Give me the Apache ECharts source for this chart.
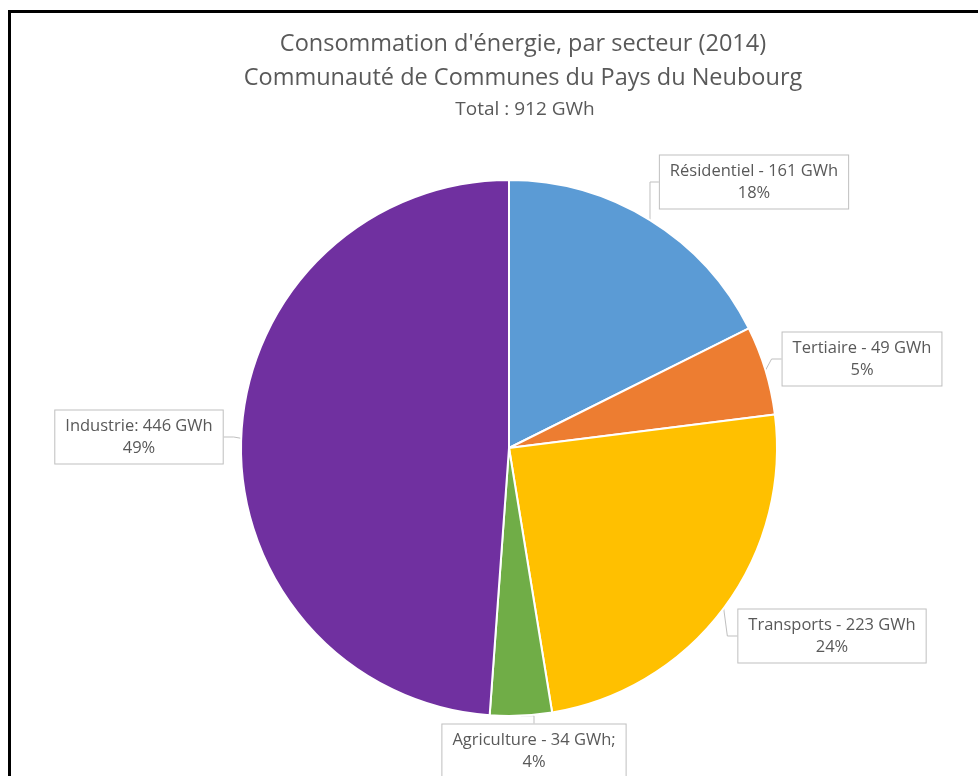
<!DOCTYPE html>
<html>
<head>
<meta charset="utf-8">
<script src="https://cdn.jsdelivr.net/npm/echarts@6/dist/echarts.min.js"></script>
<style>
    html, body { margin: 0; padding: 0; background: #fff; }
    #chart { width: 978px; height: 776px; }
    .frame {
        position: absolute; left: 8px; top: 10px; right: 0; bottom: 0;
        border-top: 3px solid #000; border-left: 3px solid #000;
        pointer-events: none;
    }
</style>
</head>
<body>
<div id="chart"></div>
<div class="frame"></div>
<script>
// secteurs, dans l'ordre horaire depuis midi
var sectors = ['Résidentiel', 'Tertiaire', 'Transports', 'Agriculture', 'Industrie'];
var gwh = [161, 49, 223, 34, 446];
var separators = [' - ', ' - ', ' - ', ' - ', ': '];
var suffixes = ['', '', '', ';', ''];
var colors = ['#5B9BD5', '#ED7D31', '#FFC000', '#70AD47', '#7030A0'];

var titleLines = [
    "Consommation d'énergie, par secteur (2014)",
    'Communauté de Communes du Pays du Neubourg'
];
var totalText = 'Total : 912 GWh';

// centres des étiquettes (callouts)
var labelCenters = [[754, 182], [862, 359], [832, 636], [534, 751], [139, 437]];

var chart = echarts.init(document.getElementById('chart'));

var pieData = sectors.map(function (s, i) {
    return { name: s, value: gwh[i] };
});

var titleFont = { fontFamily: 'Open Sans', fontSize: 23.5, fontWeight: 'normal', color: '#595959' };

var option = {
    backgroundColor: '#fff',
    color: colors,
    title: [
        { text: titleLines[0], left: 518, top: 27, textAlign: 'center', textStyle: titleFont },
        { text: titleLines[1], left: 518, top: 61, textAlign: 'center', textStyle: titleFont },
        {
            text: totalText,
            left: 520, top: 95, textAlign: 'center',
            textStyle: { fontFamily: 'Open Sans', fontSize: 19, fontWeight: 'normal', color: '#595959' }
        }
    ],
    series: [{
        type: 'pie',
        center: [509, 448],
        radius: 268,
        startAngle: 90,
        clockwise: true,
        animation: false,
        data: pieData,
        itemStyle: { borderColor: '#fff', borderWidth: 2 },
        label: {
            show: true,
            position: 'outside',
            fontFamily: 'Open Sans',
            fontSize: 16.5,
            color: '#595959',
            lineHeight: 22,
            align: 'center',
            backgroundColor: '#fff',
            borderColor: '#BFBFBF',
            borderWidth: 1,
            padding: [5, 10, 4, 10],
            formatter: function (p) {
                var i = p.dataIndex;
                return p.name + separators[i] + p.value + ' GWh' + suffixes[i] + '\n' + Math.round(p.percent) + '%';
            }
        },
        labelLine: {
            show: true,
            length: 10,
            length2: 10,
            lineStyle: { color: '#BFBFBF', width: 1 }
        },
        labelLayout: function (params) {
            var c = labelCenters[params.dataIndex];
            return {
                x: c[0],
                y: c[1],
                align: 'center',
                verticalAlign: 'middle'
            };
        }
    }]
};

chart.setOption(option);
</script>
</body>
</html>
